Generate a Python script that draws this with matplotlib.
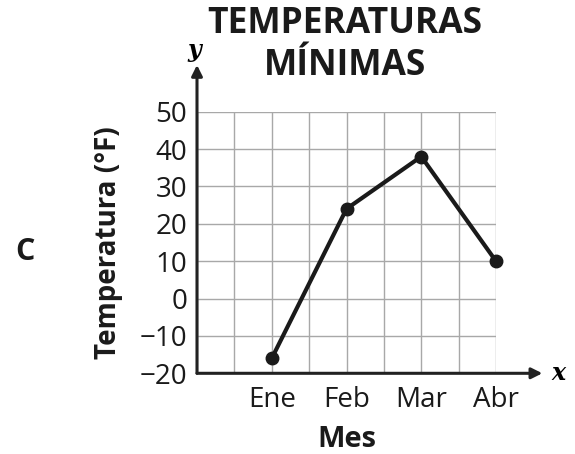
import numpy as np
import matplotlib
matplotlib.use("Agg")
import matplotlib.pyplot as plt

plt.rcParams["font.family"] = ["Open Sans", "DejaVu Sans"]

months = ["Ene", "Feb", "Mar", "Abr"]
month_pos = [1, 2, 3, 4]
temps = [-16, 24, 38, 10]
y_ticks = [-20, -10, 0, 10, 20, 30, 40, 50]

W, H = 575, 454
fig = plt.figure(figsize=(W / 100, H / 100), dpi=100)
ax = fig.add_axes([197 / W, (H - 373.3) / H, (496 - 197) / W, (373.3 - 111.7) / H])

ax.set_xlim(0, 4)
ax.set_ylim(-20, 50)
ax.set_xticks(month_pos)
ax.set_xticklabels(months)
ax.set_xticks(np.arange(0, 4.01, 0.5), minor=True)
ax.set_yticks(y_ticks)
ax.set_yticklabels([str(v).replace("-", "\u2212") for v in y_ticks])
ax.grid(True, which="both", color="#a8a8a8", linewidth=1.0)
ax.set_axisbelow(True)
ax.tick_params(which="both", length=0, labelsize=20, labelcolor="#1a1a1a")
ax.tick_params(axis="y", pad=7)
ax.tick_params(axis="x", pad=9)
for s in ax.spines.values():
    s.set_visible(False)

# axes with arrows
ax.annotate("", xy=(0, 62.5), xytext=(0, -20), annotation_clip=False,
            arrowprops=dict(arrowstyle="-|>", color="#222222", lw=2.2,
                            mutation_scale=16, shrinkA=0, shrinkB=0))
ax.annotate("", xy=(4.62, -20), xytext=(0, -20), annotation_clip=False,
            arrowprops=dict(arrowstyle="-|>", color="#222222", lw=2.2,
                            mutation_scale=16, shrinkA=0, shrinkB=0))
ax.text(-0.04, 66.5, "y", ha="center", va="center", fontsize=17, style="italic",
        fontweight="bold", family="DejaVu Serif", clip_on=False)
ax.text(4.83, -20, "x", ha="center", va="center", fontsize=17, style="italic",
        fontweight="bold", family="DejaVu Serif", clip_on=False)

ax.plot(month_pos, temps, color="#1a1a1a", lw=3, marker="o", markersize=9,
        clip_on=False, zorder=5)

ax.set_ylabel("Temperatura (°F)", fontsize=20, fontweight="bold", labelpad=12,
              color="#1a1a1a")
ax.set_xlabel("Mes", fontsize=21, fontweight="bold", labelpad=8,
              color="#1a1a1a")

fig.text(345 / W, 1 - 6 / H, "TEMPERATURAS\nMÍNIMAS", ha="center", va="top",
         fontsize=25.5, fontweight="bold", linespacing=1.22, color="#1a1a1a")
fig.text(25 / W, 1 - 252 / H, "C", ha="center", va="center", fontsize=22,
         fontweight="bold", color="#1a1a1a")

fig.savefig("out.png", dpi=100)
